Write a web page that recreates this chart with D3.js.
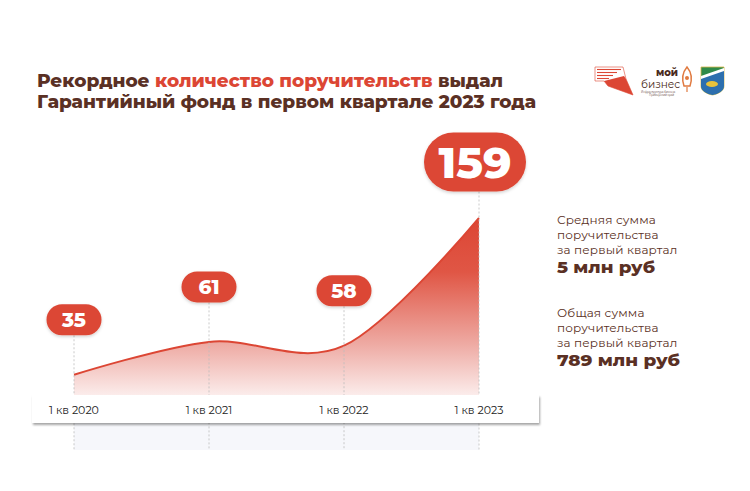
<!DOCTYPE html>
<html><head><meta charset="utf-8">
<script src="https://cdn.jsdelivr.net/npm/d3@7"></script>
<style>
html,body{margin:0;padding:0;background:#fff;}
svg{display:block;}
</style></head>
<body>
<script>
const categories = ["1 кв 2020","1 кв 2021","1 кв 2022","1 кв 2023"];
const values = [35, 61, 58, 159];
const titleLine1 = [["Рекордное ", false], ["количество поручительств", true], [" выдал", false]];
const titleLine2 = "Гарантийный фонд в первом квартале 2023 года";
const sideBlocks = [
  {lines:["Средняя сумма","поручительства","за первый квартал"], value:"5 млн руб"},
  {lines:["Общая сумма","поручительства","за первый квартал"], value:"789 млн руб"}
];

const W = 750, H = 491;
const RED = "#dc4634", BROWN = "#5a3024";
const FONT = "Montserrat, Inter, 'Open Sans', sans-serif";

const svg = d3.select("body").append("svg").attr("width", W).attr("height", H);
const defs = svg.append("defs");

const grad = defs.append("linearGradient").attr("id","areaGrad")
  .attr("gradientUnits","userSpaceOnUse").attr("x1",0).attr("x2",0).attr("y1",218).attr("y2",398);
grad.append("stop").attr("offset","0%").attr("stop-color","#dc4634");
grad.append("stop").attr("offset","30%").attr("stop-color","#e05645");
grad.append("stop").attr("offset","70%").attr("stop-color","#eeaaa3");
grad.append("stop").attr("offset","100%").attr("stop-color","#fcf0ef");

const sh = defs.append("filter").attr("id","shadow").attr("x","-10%").attr("y","-50%").attr("width","120%").attr("height","200%");
sh.append("feDropShadow").attr("dx",1).attr("dy",2).attr("stdDeviation",1.2).attr("flood-color","#000").attr("flood-opacity",0.35);
const sh2 = defs.append("filter").attr("id","pillShadow").attr("x","-20%").attr("y","-30%").attr("width","140%").attr("height","170%");
sh2.append("feDropShadow").attr("dx",0).attr("dy",1.5).attr("stdDeviation",1.5).attr("flood-color","#000").attr("flood-opacity",0.18);

// Title
const t1 = svg.append("text").attr("x",37).attr("y",87)
  .attr("font-family",FONT).attr("font-weight",800).attr("font-size",18).attr("fill",BROWN);
titleLine1.forEach(([s,red]) => t1.append("tspan").attr("fill", red ? RED : BROWN).text(s));
t1.attr("textLength",466).attr("lengthAdjust","spacingAndGlyphs");
svg.append("text").attr("x",37).attr("y",108)
  .attr("font-family",FONT).attr("font-weight",800).attr("font-size",18).attr("fill",BROWN)
  .attr("textLength",499).attr("lengthAdjust","spacingAndGlyphs").text(titleLine2);

// Scales
const x = d3.scalePoint().domain(categories).range([74, 479]);
const y = d3.scaleLinear().domain([0, 159]).range([419, 218]);
const data = categories.map((c,i) => ({c, v: values[i]}));

// gray region below band
svg.append("rect").attr("x",x(categories[0])).attr("y",423)
  .attr("width",x(categories[3])-x(categories[0])).attr("height",27).attr("fill","#f6f7fb");

// area
const area = d3.area().x(d=>x(d.c)).y0(398).y1(d=>y(d.v)).curve(d3.curveCardinal.tension(0));
svg.append("path").datum(data).attr("d",area).attr("fill","url(#areaGrad)");
const line = d3.line().x(d=>x(d.c)).y(d=>y(d.v)).curve(d3.curveCardinal.tension(0));
svg.append("path").datum(data).attr("d",line).attr("fill","none").attr("stroke",RED).attr("stroke-width",2);

// pills config
const pillW = d => d.v >= 100 ? 102 : 55;
const pillH = d => d.v >= 100 ? 59 : 31;
const pillCY = d => d.v >= 100 ? y(d.v) - 56 : y(d.v) - 55;

// dashed lines
svg.selectAll("line.drop").data(data).join("line").attr("class","drop")
  .attr("x1",d=>x(d.c)).attr("x2",d=>x(d.c))
  .attr("y1",d=>pillCY(d)+pillH(d)/2).attr("y2",450)
  .attr("stroke","#bdbdbd").attr("stroke-width",0.8).attr("stroke-dasharray","2,2");

// band
svg.append("rect").attr("x",32).attr("y",395).attr("width",507).attr("height",28)
  .attr("fill","#fff").attr("filter","url(#shadow)");

svg.selectAll("text.xl").data(data).join("text").attr("class","xl")
  .attr("x",d=>x(d.c)).attr("y",414).attr("text-anchor","middle")
  .attr("font-family",FONT).attr("font-size",11).attr("fill","#222").text(d=>d.c);

// pills
const pg = svg.selectAll("g.pill").data(data).join("g").attr("class","pill");
pg.append("rect")
  .attr("x",d=>x(d.c)-pillW(d)/2+(d.v>=100?-4:0)).attr("y",d=>pillCY(d)-pillH(d)/2)
  .attr("width",pillW).attr("height",pillH).attr("rx",d=>pillH(d)/2)
  .attr("fill",RED).attr("filter","url(#pillShadow)");
pg.append("text")
  .attr("x",d=>x(d.c)+(d.v>=100?-4:0)).attr("y",d=>pillCY(d))
  .attr("dy","0.36em").attr("text-anchor","middle")
  .attr("font-family",FONT).attr("font-weight",800)
  .attr("font-size",d=>d.v>=100?44:20).attr("fill","#fff").text(d=>d.v);

// side blocks
const valueWidths = [98, 123];
sideBlocks.forEach((b,bi) => {
  const y0 = 224 + bi*93;
  b.lines.forEach((l,li) => {
    svg.append("text").attr("x",557).attr("y",y0+li*15)
      .attr("font-family",FONT).attr("font-size",12).attr("letter-spacing",0.15).attr("fill",BROWN).text(l);
  });
  svg.append("text").attr("x",557).attr("y",y0+49)
    .attr("font-family",FONT).attr("font-weight",800).attr("font-size",17)
    .attr("textLength",valueWidths[bi]).attr("lengthAdjust","spacingAndGlyphs")
    .attr("fill",BROWN).text(b.value);
});

// logos (simplified)
const lg = svg.append("g");
lg.append("polygon").attr("points","595,67 623,67 626,79 633,95 608,86 604,81 595,81").attr("fill","#fff").attr("stroke",RED).attr("stroke-width",0.6);
lg.append("polygon").attr("points","604,81 624,76 626,79 633,95 608,86").attr("fill",RED);
[69.5,72.5,75.5,78.5].forEach((yy,i)=> lg.append("line").attr("x1",597).attr("x2",621-i*4).attr("y1",yy).attr("y2",yy)
  .attr("stroke",RED).attr("stroke-width",1.1));
lg.append("text").attr("x",656).attr("y",76).attr("font-family",FONT).attr("font-weight",800).attr("font-size",10).attr("fill","#4a2a20").text("мой");
lg.append("text").attr("x",641).attr("y",88).attr("font-family",FONT).attr("font-size",10.5).attr("fill","#4a2a20").text("бизнес");
lg.append("text").attr("x",641).attr("y",92.5).attr("font-family",FONT).attr("font-size",2.6).attr("fill","#4a2a20").text("Инфраструктура бизнеса");
lg.append("text").attr("x",649).attr("y",96).attr("font-family",FONT).attr("font-size",2.6).attr("fill","#4a2a20").text("Приморский край");
lg.append("path").attr("d","M687,67 C682,73 682,80 684,86 L690,86 C692,80 692,73 687,67 Z")
  .attr("fill","none").attr("stroke","#e07a40").attr("stroke-width",1.5);
lg.append("circle").attr("cx",687).attr("cy",78).attr("r",2).attr("fill","#e07a40");
lg.append("line").attr("x1",687).attr("x2",687).attr("y1",87).attr("y2",92).attr("stroke","#e07a40").attr("stroke-width",1.2);
// coat of arms
lg.append("path").attr("d","M701,67 L724,67 L724,86 C724,91 718,94 712.5,95 C707,94 701,91 701,86 Z").attr("fill","#2f8a4a").attr("stroke","#d9b64a").attr("stroke-width",0.8);
lg.append("path").attr("d","M701,78 L724,70 L724,86 C724,91 718,94 712.5,95 C707,94 701,91 701,86 Z").attr("fill","#2d6fae");
lg.append("path").attr("d","M701,76 L724,68 L724,71 L701,79 Z").attr("fill","#fff");
lg.append("ellipse").attr("cx",712).attr("cy",84).attr("rx",6).attr("ry",3).attr("fill","#e8c23a");
</script>
</body></html>
